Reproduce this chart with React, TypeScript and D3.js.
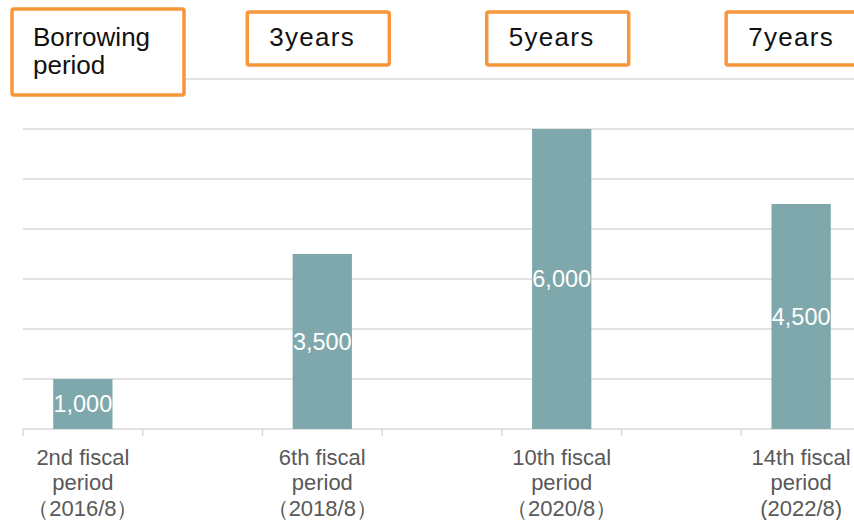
import React from "react";
import * as d3 from "d3";

const slots = ["p2", "g1", "p6", "g2", "p10", "g3", "p14"];
const periods = ["p2", "p6", "p10", "p14"];
const values = [1000, 3500, 6000, 4500];
const labelLine1 = ["2nd fiscal", "6th fiscal", "10th fiscal", "14th fiscal"];
const labelLine2 = ["period", "period", "period", "period"];
const labelLine3 = ["（2016/8）", "（2018/8）", "（2020/8）", "(2022/8)"];
const yearLabels = ["", "3years", "5years", "7years"];
const yTicks = [1000, 2000, 3000, 4000, 5000, 6000, 7000];

const W = 854;
const H = 520;
const BAR = "#7FA8AC";
const GRID = "#D9D9D9";
const ORANGE = "#F7963A";

export default function App() {
  const x = d3.scaleBand<string>().domain(slots).range([23, 861]).padding(0);
  const y = d3.scaleLinear().domain([0, 7000]).range([429, 79]);
  const bw = x.bandwidth();
  const barW = bw * 0.495;
  const font = "'Liberation Sans', Arial, sans-serif";

  return (
    <div style={{ position: "fixed", left: 0, top: 0 }}>
      <svg width={W} height={H} style={{ display: "block", background: "#fff" }}>
        {yTicks.map((t) => (
          <line key={t} x1={23} x2={W} y1={y(t)} y2={y(t)} stroke={GRID} strokeWidth={1.3} />
        ))}
        <line x1={23} x2={W} y1={y(0)} y2={y(0)} stroke={GRID} strokeWidth={1.5} />
        {slots.map((s) => (
          <line key={s} x1={x(s)!} x2={x(s)!} y1={y(0)} y2={y(0) + 7} stroke={GRID} strokeWidth={1.5} />
        ))}
        {periods.map((p, i) => {
          const cx = x(p)! + bw / 2;
          const top = y(values[i]);
          const h = y(0) - top;
          return (
            <g key={p}>
              <rect x={cx - barW / 2} y={top} width={barW} height={h} fill={BAR} />
              <text
                x={cx}
                y={top + h / 2}
                dy="0.36em"
                textAnchor="middle"
                fill="#fff"
                fontFamily={font}
                fontSize={23.5}
              >
                {d3.format(",")(values[i])}
              </text>
              <text textAnchor="middle" fill="#595959" fontFamily={font} fontSize={22}>
                <tspan x={cx} y={465}>{labelLine1[i]}</tspan>
                <tspan x={cx} y={490}>{labelLine2[i]}</tspan>
                <tspan x={cx} y={516}>{labelLine3[i]}</tspan>
              </text>
              {yearLabels[i] && (
                <g>
                  <rect
                    x={cx - 75}
                    y={12}
                    width={142}
                    height={53}
                    rx={2}
                    fill="#fff"
                    stroke={ORANGE}
                    strokeWidth={3.5}
                  />
                  <text x={cx - 53} y={46} fill="#111" fontFamily={font} fontSize={26} letterSpacing={1.3}>
                    {yearLabels[i]}
                  </text>
                </g>
              )}
            </g>
          );
        })}
        <rect x={12} y={9} width={172} height={86} rx={2} fill="#fff" stroke={ORANGE} strokeWidth={3.5} />
        <text fill="#111" fontFamily={font} fontSize={26}>
          <tspan x={33} y={46}>Borrowing</tspan>
          <tspan x={33} y={74}>period</tspan>
        </text>
      </svg>
    </div>
  );
}
